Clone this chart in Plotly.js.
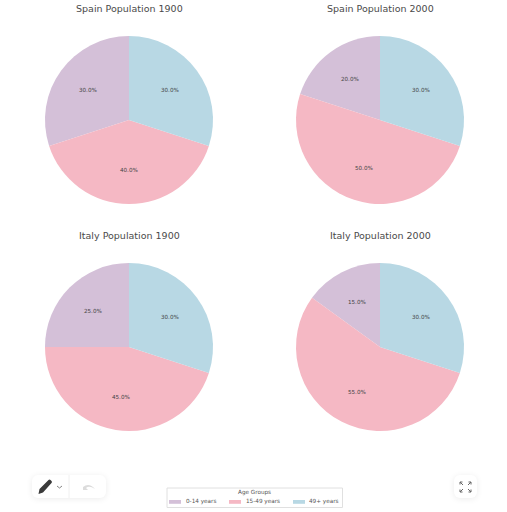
<!DOCTYPE html>
<html><head><meta charset="utf-8">
<script src="https://cdn.plot.ly/plotly-3.0.1.min.js"></script>
<style>
html,body{margin:0;padding:0;background:#fff;overflow:hidden}
#c{width:507px;height:512px;position:absolute;left:0;top:0}
.tb{position:absolute;background:#fff;border-radius:6px;box-shadow:0 1px 6px rgba(0,0,0,.08)}
</style></head><body>
<div id="c"></div>
<div class="tb" style="left:32px;top:475px;width:74px;height:23px">
<svg width="74" height="23" viewBox="0 0 74 23">
<path d="M6.5 19 L7.5 14 L16.5 5 Q17.5 4 18.5 5 L19.5 6 Q20.5 7 19.5 8 L11 17.5 Z" fill="#3a3a3a"/>
<path d="M25 11 L27.5 13 L30 11" fill="none" stroke="#777" stroke-width="0.9"/>
<line x1="37" y1="0" x2="37" y2="23" stroke="#f0f0f0"/>
<path d="M51 12 Q57 7 63 14 Q57 10 54 13 L56 15 L51 15 Z" fill="#dcdcdc"/>
</svg></div>
<div class="tb" style="left:454px;top:475px;width:23px;height:23px">
<svg width="23" height="23" viewBox="0 0 23 23" fill="none" stroke="#666" stroke-width="1">
<path d="M6 7 L9 10 M6 7 H8.5 M6 7 V9.5 M17 7 L14 10 M17 7 H14.5 M17 7 V9.5 M6 17 L9 14 M6 17 H8.5 M6 17 V14.5 M17 17 L14 14 M17 17 H14.5 M17 17 V14.5"/>
</svg></div>
<script>
const labels = ['0-14 years','15-49 years','49+ years'];
const colors = ['#D4C0D8','#F5B8C4','#B8D8E4'];
const spain1900 = [30,40,30];
const spain2000 = [20,50,30];
const italy1900 = [25,45,30];
const italy2000 = [15,55,30];
const titles = ['Spain Population 1900','Spain Population 2000','Italy Population 1900','Italy Population 2000'];
const legendTitle = 'Age Groups';
const W=507,H=512;
const boxes=[[45,213,36,204],[296,464,36,204],[45,213,263,431],[296,464,263,431]];
const series=[spain1900,spain2000,italy1900,italy2000];
const font='"DejaVu Sans", sans-serif';
const px=x=>x/W, py=y=>1-y/H;
const total=v=>v.reduce((a,b)=>a+b,0);
const data=series.map((v,i)=>({
  type:'pie',values:v,labels:labels,sort:false,direction:'counterclockwise',
  rotation:-360*v[0]/total(v),
  marker:{colors:colors,line:{width:0}},
  textinfo:'none',hoverinfo:'label+percent',
  showlegend:false,
  domain:{x:[px(boxes[i][0]),px(boxes[i][1])],y:[py(boxes[i][3]),py(boxes[i][2])]}
}));
const annotations=titles.map((t,i)=>({
  text:t,showarrow:false,xref:'paper',yref:'paper',xanchor:'center',yanchor:'middle',
  x:px((boxes[i][0]+boxes[i][1])/2),y:py(boxes[i][2]-27.5),
  font:{family:font,size:9.5,color:'#4a4a4a'}
}));
// percentage labels, placed at 0.6 of the radius on each slice's mid-angle (from the data)
series.forEach((v,i)=>{
  const b=boxes[i],cx=(b[0]+b[1])/2,cy=(b[2]+b[3])/2,r=(b[1]-b[0])/2,t=total(v);
  let acc=0;
  v.forEach(x=>{
    const mid=(acc+x/2)/t*2*Math.PI; acc+=x;
    annotations.push({text:(x/t*100).toFixed(1)+'%',showarrow:false,xref:'paper',yref:'paper',
      xanchor:'center',yanchor:'middle',
      x:px(cx-0.6*r*Math.sin(mid)),y:py(cy-0.6*r*Math.cos(mid)),
      font:{family:font,size:5.6,color:'#444'}});
  });
});
const swatchX=[169,229,293], labelX=[186,246,309];
const shapes=[{type:'rect',xref:'paper',yref:'paper',x0:px(167),x1:px(342.5),y0:py(507.5),y1:py(488),line:{color:'#e0e0e0',width:1},fillcolor:'#fff'}];
labels.forEach((l,i)=>{
  shapes.push({type:'rect',xref:'paper',yref:'paper',x0:px(swatchX[i]),x1:px(swatchX[i]+12),y0:py(503.8),y1:py(500),line:{width:0},fillcolor:colors[i]});
  annotations.push({text:l,showarrow:false,xref:'paper',yref:'paper',xanchor:'left',yanchor:'middle',x:px(labelX[i]),y:py(501.8),xshift:-2,font:{family:font,size:5.7,color:'#555'}});
});
annotations.push({text:legendTitle,showarrow:false,xref:'paper',yref:'paper',xanchor:'center',yanchor:'middle',x:px(254.5),y:py(492.8),font:{family:font,size:5.7,color:'#555'}});
Plotly.newPlot('c',data,{
  width:W,height:H,margin:{l:0,r:0,t:0,b:0},paper_bgcolor:'#fff',
  annotations:annotations,shapes:shapes,showlegend:false,
  font:{family:font}
},{displayModeBar:false,responsive:false});
</script></body></html>
